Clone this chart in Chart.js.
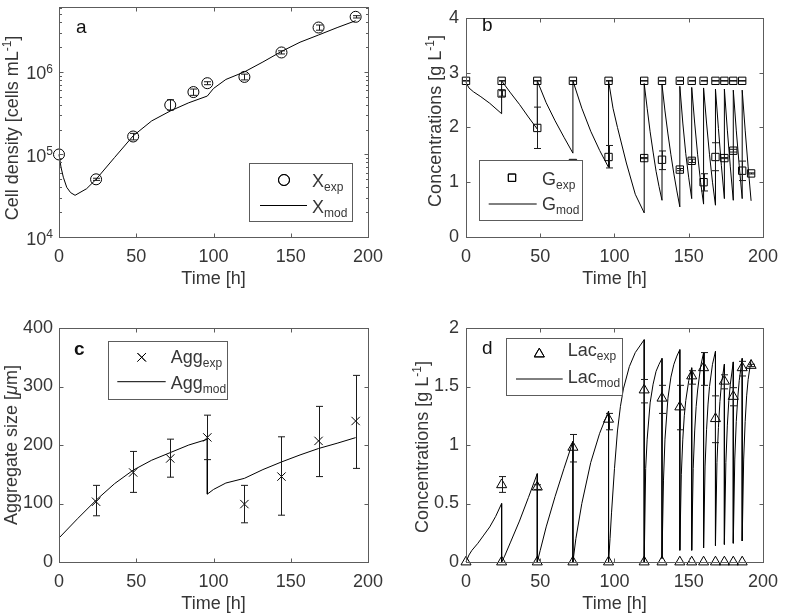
<!DOCTYPE html>
<html><head><meta charset="utf-8">
<script src="https://cdn.jsdelivr.net/npm/chart.js@4.4.0/dist/chart.umd.min.js"></script>
<style>
html,body{margin:0;padding:0;background:#fff;}
body{width:787px;height:613px;position:relative;overflow:hidden;}
canvas{position:absolute;}
</style></head><body>
<canvas id="ca" width="393" height="300" style="left:0px;top:0px"></canvas>
<canvas id="cb" width="394" height="300" style="left:393px;top:0px"></canvas>
<canvas id="cc" width="393" height="313" style="left:0px;top:300px"></canvas>
<canvas id="cd" width="394" height="313" style="left:393px;top:300px"></canvas>
<script>
// ---------------- DATA ----------------
const xTicks = [0, 50, 100, 150, 200];

// (a) cell density
const timeXexp = [0, 24, 48, 72, 87, 96, 120, 144, 168, 192];
const xExp   = [1.0e5, 5.0e4, 1.65e5, 3.97e5, 5.7e5, 7.3e5, 8.7e5, 1.72e6, 3.45e6, 4.65e6];
const xExpLo = [1.0e5, 4.85e4, 1.5e5, 3.45e5, 5.2e5, 7.0e5, 8.0e5, 1.65e6, 3.2e6, 4.5e6];
const xExpHi = [1.0e5, 5.15e4, 1.8e5, 4.6e5, 6.2e5, 7.6e5, 9.4e5, 1.8e6, 3.7e6, 4.8e6];
const timeXmod = [0, 1.3, 2.8, 5, 7.5, 10.4, 17.9, 24, 36, 48, 60, 72, 84, 96, 100, 108, 120, 132, 144, 156, 168, 180, 192];
const xMod = [1.0e5, 7.0e4, 5.3e4, 4.0e4, 3.45e4, 3.2e4, 3.85e4, 5.0e4, 9.2e4, 1.68e5, 2.55e5, 3.36e5, 4.23e5, 5.1e5, 6.3e5, 8.1e5, 1.0e6, 1.32e6, 1.77e6, 2.29e6, 2.8e6, 3.44e6, 4.17e6];
const aYMajor = [1e4, 1e5, 1e6];
const aYMajorExp = ['4', '5', '6'];
const aYMinor = [2e4, 3e4, 4e4, 5e4, 6e4, 7e4, 8e4, 9e4, 2e5, 3e5, 4e5, 5e5, 6e5, 7e5, 8e5, 9e5, 2e6, 3e6, 4e6, 5e6, 6e6];

// (b) glucose
const timeGexp = [24, 48, 72, 96, 120, 132, 144, 152, 160, 168, 174, 180, 186, 192];
const gExp   = [2.62, 1.99, 1.35, 1.46, 1.44, 1.41, 1.23, 1.39, 1.0, 1.46, 1.44, 1.575, 1.21, 1.16];
const gExpLo = [2.57, 1.615, 1.33, 1.26, 1.43, 1.23, 1.21, 1.36, 0.84, 1.21, 1.43, 1.55, 1.03, 1.15];
const gExpHi = [2.67, 2.37, 1.37, 1.67, 1.45, 1.57, 1.25, 1.42, 1.155, 1.72, 1.45, 1.60, 1.385, 1.17];
const timeGfeed = [0, 24, 48, 72, 96, 120, 132, 144, 152, 160, 168, 174, 180, 186];
const gFeed = [2.85, 2.85, 2.85, 2.85, 2.85, 2.85, 2.85, 2.85, 2.85, 2.85, 2.85, 2.85, 2.85, 2.85];
const timeGmod = [0, 2, 5, 10, 16, 24, 24, 30, 36, 42, 48, 48, 54, 60, 66, 72, 72, 78, 84, 90, 96,
  96, 99, 102, 108, 114, 120, 120, 122, 124, 126, 128, 130, 132, 132, 134, 136, 138, 140, 142, 144,
  144, 146, 148, 150, 152, 152, 154, 156, 158, 160, 160, 162, 164, 166, 168, 168, 170, 172, 174,
  174, 176, 178, 180, 180, 182, 184, 186, 186, 188, 190, 192];
const gMod = [2.82, 2.72, 2.65, 2.56, 2.44, 2.25, 2.85, 2.63, 2.42, 2.19, 1.97, 2.85, 2.45, 2.12, 1.82, 1.53, 2.85, 2.35, 1.93, 1.58, 1.27,
  2.85, 2.35, 2.0, 1.35, 0.78, 0.44, 2.8, 2.35, 1.92, 1.55, 1.2, 0.92, 0.67, 2.78, 2.3, 1.88, 1.5, 1.15, 0.84, 0.55,
  2.75, 2.08, 1.52, 1.08, 0.7, 2.73, 2.08, 1.5, 1.0, 0.6, 2.72, 2.08, 1.5, 1.0, 0.58, 2.7, 1.98, 1.3, 0.7,
  2.7, 1.95, 1.28, 0.67, 2.68, 1.95, 1.3, 0.7, 2.68, 1.95, 1.28, 0.66];
const bYTicks = [0, 1, 2, 3, 4];

// (c) aggregate size
const timeAgg = [24, 48, 72, 96, 120, 144, 168, 192];
const aggExp = [103, 153, 177, 213, 99, 146, 207, 241];
const aggLo  = [79, 119, 145, 175, 67, 80, 146, 160];
const aggHi  = [131, 189, 210, 251, 131, 214, 266, 319];
const timeAggMod = [0, 12, 24, 36, 48, 60, 72, 84, 96, 96, 100, 108, 120, 132, 144, 156, 168, 180, 192];
const aggMod = [41, 74, 105.7, 134, 157, 174, 187, 200, 209.7, 116, 124, 135, 143, 158, 171, 183, 194, 203, 212.6];
const cYTicks = [0, 100, 200, 300, 400];

// (d) lactate
const timeLacExp = [24, 48, 72, 96, 120, 132, 144, 152, 160, 168, 174, 180, 186, 192];
const lacExp   = [0.66, 0.64, 0.98, 1.22, 1.47, 1.40, 1.325, 1.59, 1.66, 1.225, 1.545, 1.415, 1.66, 1.68];
const lacExpLo = [0.595, 0.62, 0.855, 1.13, 1.36, 1.27, 1.13, 1.52, 1.51, 1.02, 1.48, 1.335, 1.59, 1.67];
const lacExpHi = [0.73, 0.66, 1.09, 1.27, 1.56, 1.51, 1.51, 1.635, 1.79, 1.42, 1.60, 1.49, 1.715, 1.69];
const timeLacFeed = [0, 24, 48, 72, 96, 120, 132, 144, 152, 160, 168, 174, 180, 186];
const lacFeed = [0, 0, 0, 0, 0, 0, 0, 0, 0, 0, 0, 0, 0, 0];
const timeLacMod = [0, 2, 4, 8, 12, 16, 20, 24, 24, 26, 30, 36, 42, 48, 48, 50, 54, 60, 66, 72, 72, 74, 78, 84, 90, 96,
  96, 97, 98, 100, 102, 104, 106, 110, 114, 120, 120, 121, 122, 124, 126, 128, 130, 132,
  132, 133, 134, 136, 138, 140, 142, 144, 144, 145, 146, 147, 148, 150, 152,
  152, 153, 154, 155, 156, 158, 160, 160, 161, 162, 163, 164, 166, 168,
  168, 169, 170, 171, 172, 174, 174, 175, 176, 177, 178, 180, 180, 181, 182, 183, 184, 186,
  186, 187, 188, 189, 190, 192];
const lacMod = [0, 0.06, 0.1, 0.16, 0.23, 0.3, 0.39, 0.5, 0, 0.05, 0.17, 0.35, 0.55, 0.755, 0, 0.1, 0.3, 0.56, 0.8, 1.03, 0, 0.2, 0.5, 0.85, 1.1, 1.29,
  0, 0.2, 0.42, 0.8, 1.12, 1.33, 1.48, 1.67, 1.79, 1.9, 0, 0.8, 1.05, 1.36, 1.52, 1.63, 1.69, 1.74,
  0.03, 0.7, 1.05, 1.4, 1.58, 1.69, 1.76, 1.815, 0.1, 0.75, 1.05, 1.25, 1.38, 1.55, 1.66,
  0.1, 0.8, 1.12, 1.33, 1.47, 1.67, 1.79, 0.12, 0.82, 1.13, 1.35, 1.5, 1.69, 1.8,
  0.14, 0.85, 1.15, 1.37, 1.52, 1.69, 0.15, 0.85, 1.17, 1.38, 1.52, 1.71, 0.16, 0.88, 1.2, 1.4, 1.55, 1.74,
  0.18, 0.88, 1.2, 1.42, 1.56, 1.73];
const dYTicks = [0, 0.5, 1, 1.5, 2];

// ---------------- STYLE / HELPERS ----------------
const FONT = "'Liberation Sans', Arial, Helvetica, sans-serif";
const TXT = '#363636';
const AXC = '#5c5c5c';
const pts = (t, v) => t.map((x, i) => ({x: x, y: v[i]}));

function subText(ctx, x, y, main, sub) {
  ctx.textAlign = 'left'; ctx.textBaseline = 'alphabetic';
  ctx.font = '18px ' + FONT;
  ctx.fillText(main, x, y);
  const w = ctx.measureText(main).width;
  ctx.font = '12px ' + FONT;
  ctx.fillText(sub, x + w, y + 4);
}

const decor = {
  id: 'decor',
  afterDatasetsDraw(chart) {
    const o = chart.options.plugins.decor; if (!o) return;
    const ctx = chart.ctx, xs = chart.scales.x, ys = chart.scales.y;
    ctx.save();
    ctx.strokeStyle = '#1a1a1a'; ctx.lineWidth = 1;
    (o.errors || []).forEach(e => {
      for (let i = 0; i < e.t.length; i++) {
        if (e.lo[i] === e.hi[i]) continue;
        const px = Math.round(xs.getPixelForValue(e.t[i])) + 0.5;
        const y1 = ys.getPixelForValue(e.lo[i]), y2 = ys.getPixelForValue(e.hi[i]);
        ctx.beginPath();
        ctx.moveTo(px, y1); ctx.lineTo(px, y2);
        ctx.moveTo(px - 3.5, y1); ctx.lineTo(px + 3.5, y1);
        ctx.moveTo(px - 3.5, y2); ctx.lineTo(px + 3.5, y2);
        ctx.stroke();
      }
    });
    ctx.restore();
  },
  afterDraw(chart) {
    const o = chart.options.plugins.decor; if (!o) return;
    const ctx = chart.ctx, a = chart.chartArea, xs = chart.scales.x, ys = chart.scales.y;
    const ox = o.ox, oy = o.oy;
    ctx.save();
    // legend box
    const L = o.legend;
    const bx0 = L.box[0] - ox, by0 = L.box[1] - oy, bx1 = L.box[2] - ox, by1 = L.box[3] - oy;
    ctx.fillStyle = '#fff';
    ctx.fillRect(bx0, by0, bx1 - bx0, by1 - by0);
    ctx.strokeStyle = AXC; ctx.lineWidth = 1;
    ctx.strokeRect(Math.round(bx0) + 0.5, Math.round(by0) + 0.5, Math.round(bx1 - bx0), Math.round(by1 - by0));
    ctx.strokeStyle = '#000'; ctx.lineWidth = 1;
    Chart.helpers.drawPoint(ctx, {pointStyle: L.marker.style, radius: L.marker.r, rotation: 0, borderWidth: 1}, L.marker.x - ox, L.marker.y - oy);
    ctx.stroke();
    ctx.beginPath();
    ctx.moveTo(L.line.x0 - ox, L.line.y - oy); ctx.lineTo(L.line.x1 - ox, L.line.y - oy);
    ctx.stroke();
    ctx.fillStyle = TXT;
    subText(ctx, L.t1.x - ox, L.t1.y - oy, L.t1.main, L.t1.sub);
    subText(ctx, L.t2.x - ox, L.t2.y - oy, L.t2.main, L.t2.sub);

    // frame
    ctx.strokeStyle = AXC; ctx.lineWidth = 1;
    const l = Math.round(a.left) + 0.5, r = Math.round(a.right) + 0.5, t = Math.round(a.top) + 0.5, b = Math.round(a.bottom) + 0.5;
    ctx.strokeRect(l, t, r - l, b - t);
    ctx.beginPath();
    const TL = 4;
    o.xTicks.forEach(v => {
      const p = Math.round(xs.getPixelForValue(v)) + 0.5;
      ctx.moveTo(p, b); ctx.lineTo(p, b - TL);
      ctx.moveTo(p, t); ctx.lineTo(p, t + TL);
    });
    o.yTicks.forEach(v => {
      const p = Math.round(ys.getPixelForValue(v)) + 0.5;
      ctx.moveTo(l, p); ctx.lineTo(l + TL, p);
      ctx.moveTo(r, p); ctx.lineTo(r - TL, p);
    });
    (o.yMinor || []).forEach(v => {
      const p = Math.round(ys.getPixelForValue(v)) + 0.5;
      ctx.moveTo(l, p); ctx.lineTo(l + 2.5, p);
      ctx.moveTo(r, p); ctx.lineTo(r - 2.5, p);
    });
    ctx.stroke();

    // log tick labels
    ctx.fillStyle = TXT;
    if (o.logLabels) {
      o.logLabels.v.forEach((v, i) => {
        const p = ys.getPixelForValue(v);
        ctx.textAlign = 'right'; ctx.textBaseline = 'alphabetic';
        ctx.font = '12px ' + FONT;
        const ex = o.logLabels.e[i];
        const ew = ctx.measureText(ex).width;
        const right = a.left - 6;
        ctx.fillText(ex, right, p + 1);
        ctx.font = '18px ' + FONT;
        ctx.fillText('10', right - ew, p + 7.5);
      });
    }

    // x title
    ctx.font = '18px ' + FONT; ctx.textAlign = 'center'; ctx.textBaseline = 'alphabetic';
    ctx.fillText('Time [h]', (a.left + a.right) / 2, a.bottom + 47);

    // y title
    const Y = o.yTitle;
    const fontOf = k => k === 's' ? '12px ' + FONT : (k === 'i' ? 'italic 18px ' + FONT : '18px ' + FONT);
    let total = 0;
    Y.parts.forEach(pr => { ctx.font = fontOf(pr[1]); total += ctx.measureText(pr[0]).width; });
    ctx.save();
    ctx.translate(Y.x - ox, Y.cy - oy);
    ctx.rotate(-Math.PI / 2);
    ctx.textAlign = 'left';
    let cx = -total / 2;
    Y.parts.forEach(pr => {
      ctx.font = fontOf(pr[1]);
      ctx.fillText(pr[0], cx, pr[1] === 's' ? -7 : 0);
      cx += ctx.measureText(pr[0]).width;
    });
    ctx.restore();

    // panel letter
    ctx.font = (o.letter.bold ? 'bold ' : '') + '19px ' + FONT;
    ctx.textAlign = 'left';
    ctx.fillStyle = '#111';
    ctx.fillText(o.letter.t, o.letter.x - ox, o.letter.y - oy);
    ctx.restore();
  }
};
Chart.register(decor);

function xScale(h) {
  return {
    type: 'linear', min: 0, max: 200,
    afterBuildTicks: s => { s.ticks = xTicks.map(v => ({value: v})); },
    ticks: {font: {family: FONT, size: 18}, color: TXT, padding: 9, maxRotation: 0, autoSkip: false, callback: v => String(v)},
    grid: {display: false, drawTicks: false}, border: {display: false},
    afterFit: s => { s.height = h; }
  };
}
function yLinear(min, max, ticks, w, pad) {
  return {
    type: 'linear', min: min, max: max,
    afterBuildTicks: s => { s.ticks = ticks.map(v => ({value: v})); },
    ticks: {font: {family: FONT, size: 18}, color: TXT, padding: pad, autoSkip: false, callback: v => String(v)},
    grid: {display: false, drawTicks: false}, border: {display: false},
    afterFit: s => { s.width = w; }
  };
}
function lineDs(t, v) {
  return {type: 'scatter', data: pts(t, v), showLine: true, borderColor: '#000', borderWidth: 1, pointRadius: 0, tension: 0, fill: false, clip: false, order: 2};
}
function markDs(t, v, style, r) {
  return {type: 'scatter', data: pts(t, v), showLine: false, pointStyle: style, pointRadius: r, borderColor: '#000', backgroundColor: 'rgba(0,0,0,0)', borderWidth: 1, clip: false, order: 1};
}
function make(id, datasets, padTop, padRight, xH, yScale, decorOpts) {
  return new Chart(document.getElementById(id), {
    type: 'scatter',
    data: {datasets: datasets},
    options: {
      responsive: false, animation: false, devicePixelRatio: 1, events: [],
      layout: {padding: {left: 0, top: padTop, right: padRight, bottom: 0}},
      plugins: {legend: {display: false}, tooltip: {enabled: false}, decor: decorOpts},
      scales: {x: xScale(xH), y: yScale}
    }
  });
}

// (a)
make('ca', [lineDs(timeXmod, xMod), markDs(timeXexp, xExp, 'circle', 5.5)], 5, 25, 63,
  {type: 'logarithmic', min: 1e4, max: 6.2e6, ticks: {display: false}, grid: {display: false, drawTicks: false}, border: {display: false},
   afterBuildTicks: s => { s.ticks = aYMajor.map(v => ({value: v})); }, afterFit: s => { s.width = 59; }},
  {ox: 0, oy: 0, xTicks: xTicks, yTicks: aYMajor, yMinor: aYMinor, logLabels: {v: aYMajor, e: aYMajorExp},
   errors: [{t: timeXexp, lo: xExpLo, hi: xExpHi}],
   yTitle: {parts: [['Cell density [cells mL', 'n'], ['-1', 's'], [']', 'n']], x: 18, cy: 128},
   letter: {t: 'a', x: 76, y: 33},
   legend: {box: [249, 163, 352, 221], marker: {style: 'circle', r: 5.5, x: 284, y: 180},
     t1: {x: 312, y: 187, main: 'X', sub: 'exp'}, line: {x0: 260, x1: 307, y: 205.5}, t2: {x: 312, y: 213, main: 'X', sub: 'mod'}}});

// (b)
make('cb', [lineDs(timeGmod, gMod), markDs(timeGfeed, gFeed, 'rect', 5.2), markDs(timeGexp, gExp, 'rect', 5.2)], 5, 13, 63,
  yLinear(0, 4, bYTicks, 73, 7),
  {ox: 393, oy: 0, xTicks: xTicks, yTicks: bYTicks,
   errors: [{t: timeGexp, lo: gExpLo, hi: gExpHi}, {t: timeGfeed, lo: gFeed.map(v => v - 0.005), hi: gFeed.map(v => v + 0.005)}],
   yTitle: {parts: [['Concentrations [g L', 'n'], ['-1', 's'], [']', 'n']], x: 441, cy: 121},
   letter: {t: 'b', x: 482, y: 31},
   legend: {box: [478.5, 160, 581.5, 219.5], marker: {style: 'rect', r: 5.2, x: 512, y: 177.7},
     t1: {x: 542, y: 185, main: 'G', sub: 'exp'}, line: {x0: 488.7, x1: 536.7, y: 204}, t2: {x: 542, y: 210, main: 'G', sub: 'mod'}}});

// (c)
make('cc', [lineDs(timeAggMod, aggMod), markDs(timeAgg, aggExp, 'crossRot', 5.9)], 28, 25, 51,
  yLinear(0, 400, cYTicks, 59, 6),
  {ox: 0, oy: 300, xTicks: xTicks, yTicks: cYTicks,
   errors: [{t: timeAgg, lo: aggLo, hi: aggHi}],
   yTitle: {parts: [['Aggregate size [', 'n'], ['μ', 'i'], ['m]', 'n']], x: 17, cy: 445},
   letter: {t: 'c', x: 74, y: 355, bold: true},
   legend: {box: [107.5, 341, 226, 398.5], marker: {style: 'crossRot', r: 5.9, x: 141.7, y: 357.3},
     t1: {x: 170.7, y: 363, main: 'Agg', sub: 'exp'}, line: {x0: 117.3, x1: 165.7, y: 381.7}, t2: {x: 170.7, y: 389, main: 'Agg', sub: 'mod'}}});

// (d)
make('cd', [lineDs(timeLacMod, lacMod), markDs(timeLacFeed, lacFeed, 'triangle', 5.8), markDs(timeLacExp, lacExp, 'triangle', 5.8)], 28, 13, 51,
  yLinear(0, 2, dYTicks, 73, 7),
  {ox: 393, oy: 300, xTicks: xTicks, yTicks: dYTicks,
   errors: [{t: timeLacExp, lo: lacExpLo, hi: lacExpHi}],
   yTitle: {parts: [['Concentrations [g L', 'n'], ['-1', 's'], [']', 'n']], x: 428, cy: 447},
   letter: {t: 'd', x: 482, y: 354},
   legend: {box: [505.5, 337.5, 621, 394], marker: {style: 'triangle', r: 5.8, x: 539.3, y: 354},
     t1: {x: 567.7, y: 356.3, main: 'Lac', sub: 'exp'}, line: {x0: 516, x1: 562.7, y: 379}, t2: {x: 567.7, y: 383, main: 'Lac', sub: 'mod'}}});
</script>
</body></html>
